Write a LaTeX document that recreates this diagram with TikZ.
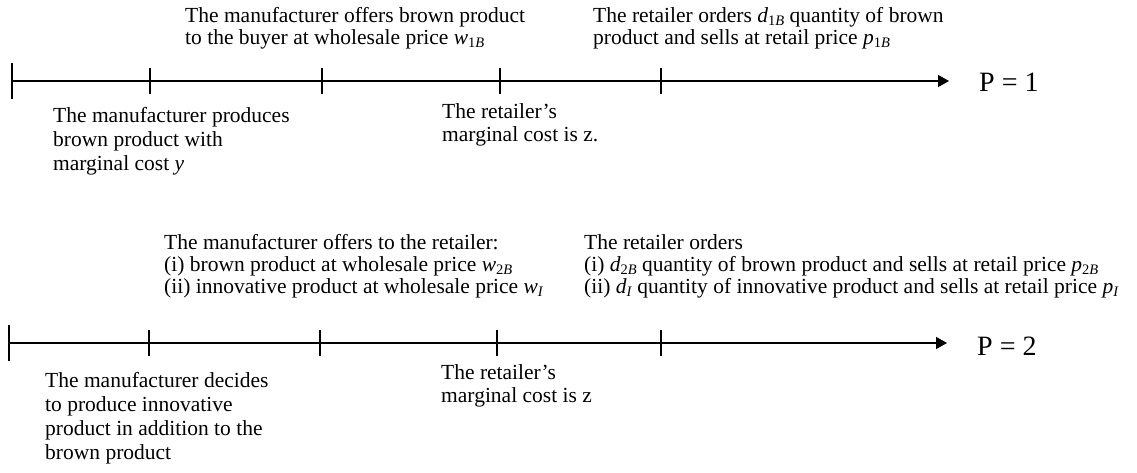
\documentclass[tikz,border=0pt]{standalone}
\usepackage{fontspec}
\setmainfont{Liberation Serif}
\usetikzlibrary{arrows.meta}
\newcommand{\mv}[2]{\textit{#1}\raisebox{-0.16em}{\fontsize{14.5}{14.5}\selectfont #2}}
\tikzset{
  lbl/.style={anchor=north west, inner sep=0pt, align=left, font=\fontsize{21.5}{#1}\selectfont},
  lbl/.default=22,
  plabel/.style={anchor=base west, inner sep=0pt, font=\fontsize{28}{30}\selectfont},
  axis/.style={line width=1.3pt, -{Triangle[length=11pt,width=12pt]}},
  tickline/.style={line width=1.3pt},
}
\begin{document}
\begin{tikzpicture}[x=1pt,y=-1pt]
\useasboundingbox (0,0) rectangle (1137,473);
% ---------- P = 1 ----------
\coordinate (s1) at (12,81);
\coordinate (e1) at (949,81);
\foreach \n/\x in {b/150,c/322,d/500,f/661}{\coordinate (t1\n) at (\x,81);}
\draw[axis] (s1) -- (e1);
\draw[tickline] ([yshift=-18pt]s1) -- ([yshift=18pt]s1);
\foreach \n in {b,c,d,f}{\draw[tickline] ([yshift=-13pt]t1\n) -- ([yshift=13pt]t1\n);}
\node[plabel] (p1) at (979,92) {P = 1};
\node[lbl=22] (o1) at (185,7) {The manufacturer offers brown product\\to the buyer at wholesale price \mv{w}{1\textit{B}}};
\node[lbl=22] (r1) at (593,7) {The retailer orders \mv{d}{1\textit{B}} quantity of brown\\product and sells at retail price \mv{p}{1\textit{B}}};
\node[lbl=24] (m1) at (53,107) {The manufacturer produces\\brown product with\\marginal cost \textit{y}};
\node[lbl=23] (c1) at (442,103) {The retailer’s\\marginal cost is z.};
% ---------- P = 2 ----------
\coordinate (s2) at (9,343);
\coordinate (e2) at (947,343);
\foreach \n/\x in {b/149,c/320,d/497,f/661}{\coordinate (t2\n) at (\x,343);}
\draw[axis] (s2) -- (e2);
\draw[tickline] ([yshift=-18pt]s2) -- ([yshift=18pt]s2);
\foreach \n in {b,c,d,f}{\draw[tickline] ([yshift=-13pt]t2\n) -- ([yshift=13pt]t2\n);}
\node[plabel] (p2) at (977,355) {P = 2};
\node[lbl=22] (o2) at (164,234) {The manufacturer offers to the retailer:\\(i) brown product at wholesale price \mv{w}{2\textit{B}}\\(ii) innovative product at wholesale price \mv{w}{\textit{I}}};
\node[lbl=22] (r2) at (584,234) {The retailer orders\\(i) \mv{d}{2\textit{B}} quantity of brown product and sells at retail price \mv{p}{2\textit{B}}\\(ii) \mv{d}{\textit{I}} quantity of innovative product and sells at retail price \mv{p}{\textit{I}}};
\node[lbl=24] (m2) at (45,372) {The manufacturer decides\\to produce innovative\\product in addition to the\\brown product};
\node[lbl=23] (c2) at (441,364) {The retailer’s\\marginal cost is z};
\end{tikzpicture}
\end{document}
